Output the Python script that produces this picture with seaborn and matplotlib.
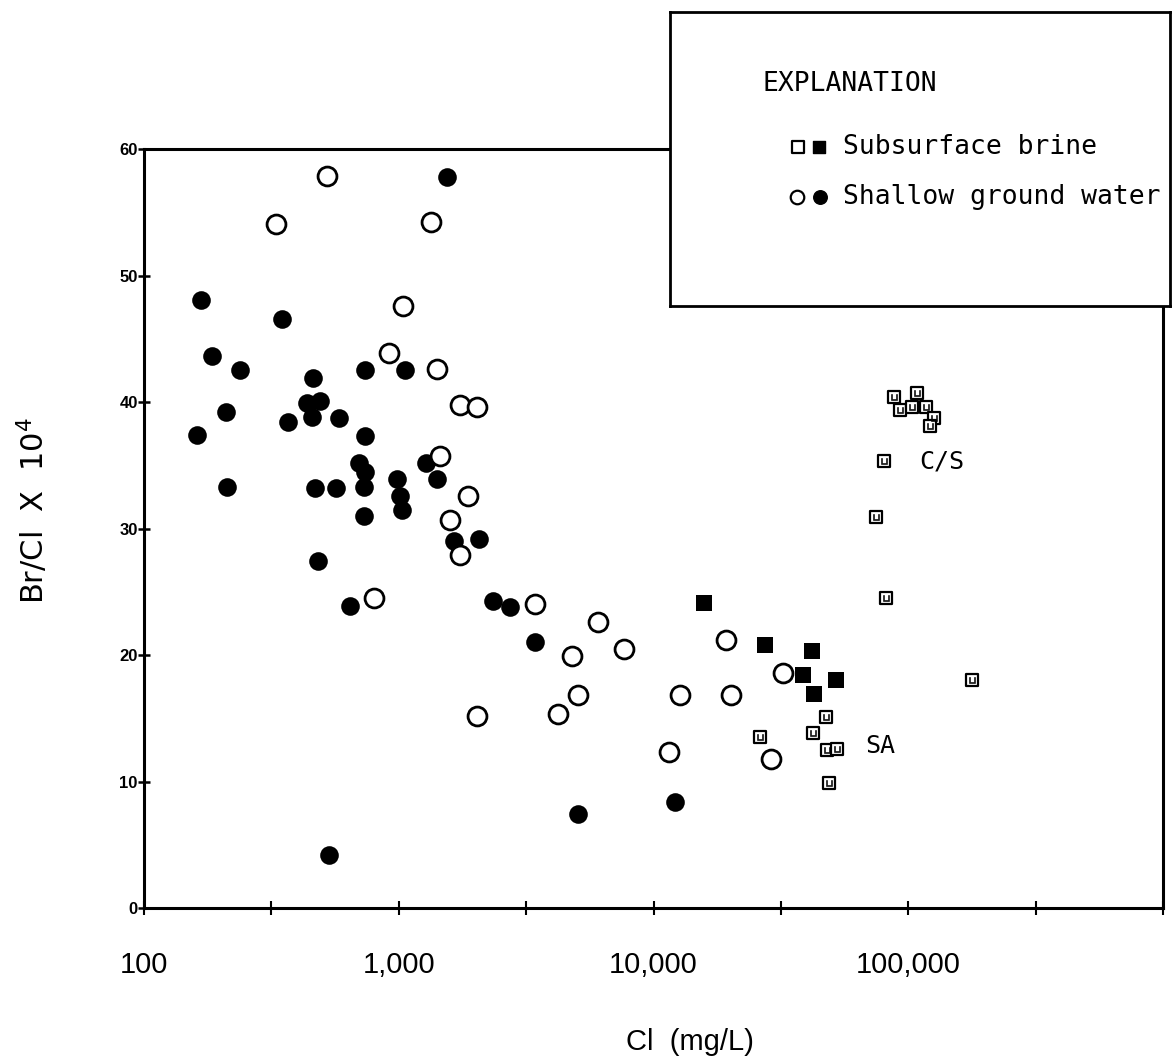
import matplotlib

matplotlib.use("Agg")

import matplotlib.pyplot as plt
import seaborn as sns
from matplotlib.ticker import FixedLocator, NullFormatter

# Shallow ground water, filled circles (Cl mg/L, Br/Cl x 10^4)
shallow_filled_cl = [1550, 167, 347, 185, 237, 738, 1061, 460, 436, 489, 456, 585,
                     209, 369, 162, 734, 695, 738, 727, 212, 467, 568, 731, 984,
                     1013, 1028, 1283, 1413, 1641, 2070, 480, 644, 2344, 2743,
                     3436, 530, 5070, 12100]
shallow_filled_ratio = [57.8, 48.1, 46.6, 43.6, 42.5, 42.5, 42.5, 41.9, 39.9, 40.1,
                        38.8, 38.7, 39.2, 38.4, 37.4, 37.3, 35.2, 34.5, 33.3, 33.3,
                        33.2, 33.2, 31.0, 33.9, 32.6, 31.5, 35.2, 33.9, 29.0, 29.2,
                        27.4, 23.9, 24.3, 23.8, 21.0, 4.2, 7.4, 8.4]

# Shallow ground water, open circles
shallow_open_cl = [522, 329, 1340, 1038, 912, 1413, 1733, 2029, 1446, 1871, 1585,
                   1733, 801, 2029, 3436, 6070, 7640, 4770, 19200, 32200, 5060,
                   12700, 20200, 4200, 11460, 28800]
shallow_open_ratio = [57.9, 54.1, 54.2, 47.6, 43.9, 42.6, 39.8, 39.6, 35.7, 32.6,
                      30.7, 27.9, 24.5, 15.2, 24.0, 22.6, 20.5, 19.9, 21.2, 18.6,
                      16.8, 16.8, 16.8, 15.3, 12.3, 11.8]

# Subsurface brine, filled squares
brine_filled_cl = [15800, 27500, 41800, 38700, 51900, 42700]
brine_filled_ratio = [24.1, 20.8, 20.3, 18.4, 18.0, 16.9]

# Subsurface brine, open squares
brine_open_cl = [87900, 108000, 92900, 103700, 117000, 126000, 122000, 80300,
                 75000, 82000, 178600, 47400, 42400, 26200, 47900, 52400, 48900]
brine_open_ratio = [40.4, 40.7, 39.4, 39.6, 39.6, 38.7, 38.1, 35.3, 30.9, 24.5,
                    18.0, 15.1, 13.8, 13.5, 12.5, 12.6, 9.9]

decade_ticks = [100, 1000, 10000, 100000, 1000000]
decade_labels = ["100", "1,000", "10,000", "100,000", ""]
half_ticks = [316, 3162, 31623, 316228]
ratio_ticks = [0, 10, 20, 30, 40, 50, 60]

sns.set_theme(style="ticks")
sans = ["Liberation Sans", "DejaVu Sans"]
mono = ["DejaVu Sans Mono"]
plt.rcParams["font.family"] = sans
plt.rcParams.update({
    "text.color": "black",
    "axes.labelcolor": "black",
    "xtick.color": "black",
    "ytick.color": "black",
    "axes.edgecolor": "black",
})

fig = plt.figure(figsize=(11.72, 10.60), dpi=100)
ax = fig.add_axes([0.1229, 0.1434, 0.8694, 0.7160])

sns.scatterplot(x=shallow_filled_cl, y=shallow_filled_ratio, marker="o", s=180,
                color="black", edgecolor="black", linewidth=0, ax=ax, zorder=3)
sns.scatterplot(x=shallow_open_cl, y=shallow_open_ratio, marker="o", s=185,
                facecolor="white", edgecolor="black", linewidth=2.0, ax=ax, zorder=4)
sns.scatterplot(x=brine_filled_cl, y=brine_filled_ratio, marker="s", s=125,
                color="black", edgecolor="black", linewidth=0, ax=ax, zorder=3)
sns.scatterplot(x=brine_open_cl, y=brine_open_ratio, marker="s", s=80,
                facecolor="white", edgecolor="black", linewidth=1.6, ax=ax, zorder=4)
# small inner mark seen in the open brine squares
ax.scatter(brine_open_cl, brine_open_ratio, marker=r"$\sqcup$", s=22,
           color="black", linewidths=0.4, zorder=5)

ax.set_xscale("log")
ax.set_xlim(100, 1000000)
ax.set_ylim(0, 60)
ax.xaxis.set_major_locator(FixedLocator(decade_ticks))
ax.set_xticklabels(decade_labels)
ax.xaxis.set_minor_locator(FixedLocator(half_ticks))
ax.xaxis.set_minor_formatter(NullFormatter())
ax.set_yticks(ratio_ticks)

ax.tick_params(axis="x", which="both", direction="inout", length=10, width=1.5,
               pad=26, labelsize=21)
ax.tick_params(axis="y", direction="inout", length=9, width=1.8, pad=0,
               labelsize=12)
for label in ax.get_yticklabels():
    label.set_fontweight("bold")
for spine in ax.spines.values():
    spine.set_linewidth(2.2)
    spine.set_color("black")

ax.set_xlabel("Cl  (mg/L)", fontsize=21)
ax.xaxis.set_label_coords(0.536, -0.158)
ax.set_ylabel(r"Br/Cl  X  10$^4$", fontsize=22, family=["DejaVu Sans"])
ax.yaxis.set_label_coords(-0.092, 0.524)

ax.text(110000, 35.3, "C/S", family=mono, fontsize=18, va="center")
ax.text(68000, 12.8, "SA", family=mono, fontsize=18, va="center")

# explanation box drawn over the upper right of the plot
key = fig.add_axes([0.5717, 0.7113, 0.4266, 0.2774], zorder=10)
key.set_facecolor("white")
key.set_xlim(0, 1)
key.set_ylim(0, 1)
key.set_xticks([])
key.set_yticks([])
for spine in key.spines.values():
    spine.set_linewidth(2.0)
    spine.set_color("black")
key.text(0.184, 0.755, "EXPLANATION", family=mono, fontsize=19, va="center")
key.scatter([0.256], [0.541], marker="s", s=80, facecolor="white",
            edgecolor="black", linewidth=1.6)
key.scatter([0.298], [0.541], marker="s", s=80, color="black")
key.scatter([0.254], [0.371], marker="o", s=95, facecolor="white",
            edgecolor="black", linewidth=1.6)
key.scatter([0.300], [0.371], marker="o", s=95, color="black")
key.text(0.346, 0.541, "Subsurface brine", family=mono, fontsize=19, va="center")
key.text(0.346, 0.371, "Shallow ground water", family=mono, fontsize=19,
         va="center")

fig.savefig("out.png", dpi=100, facecolor="white")
plt.close(fig)
